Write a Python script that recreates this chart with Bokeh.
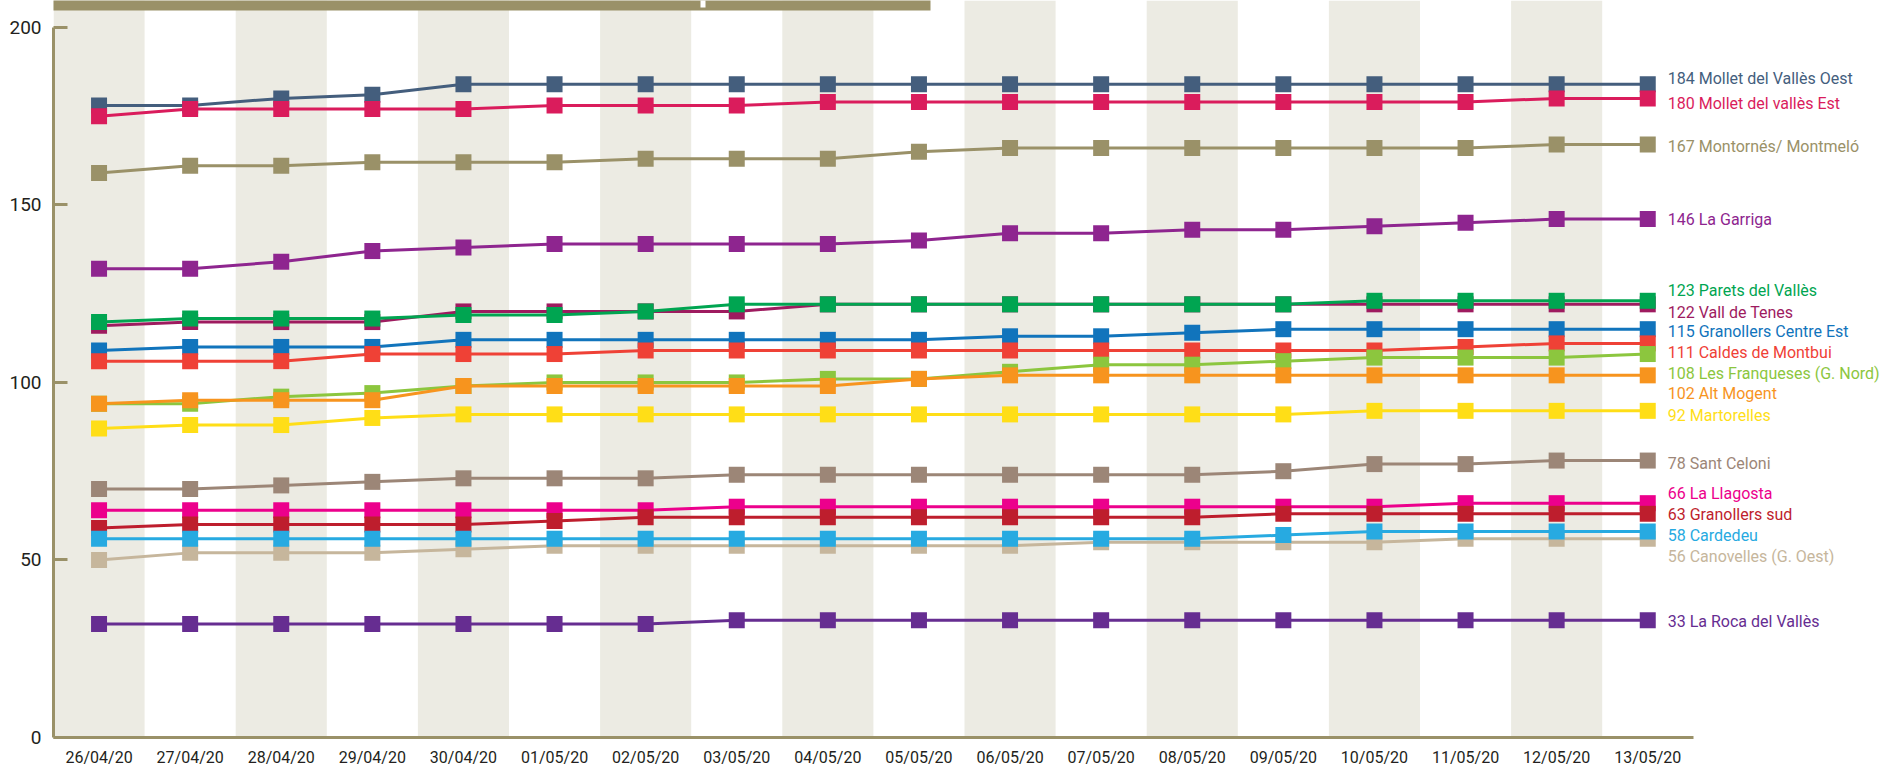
from bokeh.plotting import figure
from bokeh.models import ColumnDataSource, FixedTicker, BoxAnnotation, Range1d
from bokeh.embed import file_html
from bokeh.resources import INLINE
from bokeh.core.properties import value

# ---------------- data ----------------
dates = ["26/04/20", "27/04/20", "28/04/20", "29/04/20", "30/04/20", "01/05/20",
         "02/05/20", "03/05/20", "04/05/20", "05/05/20", "06/05/20", "07/05/20",
         "08/05/20", "09/05/20", "10/05/20", "11/05/20", "12/05/20", "13/05/20"]

mollet_oest = [178, 178, 180, 181, 184, 184, 184, 184, 184, 184, 184, 184, 184, 184, 184, 184, 184, 184]
mollet_est = [175, 177, 177, 177, 177, 178, 178, 178, 179, 179, 179, 179, 179, 179, 179, 179, 180, 180]
montornes = [159, 161, 161, 162, 162, 162, 163, 163, 163, 165, 166, 166, 166, 166, 166, 166, 167, 167]
garriga = [132, 132, 134, 137, 138, 139, 139, 139, 139, 140, 142, 142, 143, 143, 144, 145, 146, 146]
vall_tenes = [116, 117, 117, 117, 120, 120, 120, 120, 122, 122, 122, 122, 122, 122, 122, 122, 122, 122]
parets = [117, 118, 118, 118, 119, 119, 120, 122, 122, 122, 122, 122, 122, 122, 123, 123, 123, 123]
granollers_ce = [109, 110, 110, 110, 112, 112, 112, 112, 112, 112, 113, 113, 114, 115, 115, 115, 115, 115]
caldes = [106, 106, 106, 108, 108, 108, 109, 109, 109, 109, 109, 109, 109, 109, 109, 110, 111, 111]
franqueses = [94, 94, 96, 97, 99, 100, 100, 100, 101, 101, 103, 105, 105, 106, 107, 107, 107, 108]
alt_mogent = [94, 95, 95, 95, 99, 99, 99, 99, 99, 101, 102, 102, 102, 102, 102, 102, 102, 102]
martorelles = [87, 88, 88, 90, 91, 91, 91, 91, 91, 91, 91, 91, 91, 91, 92, 92, 92, 92]
sant_celoni = [70, 70, 71, 72, 73, 73, 73, 74, 74, 74, 74, 74, 74, 75, 77, 77, 78, 78]
llagosta = [64, 64, 64, 64, 64, 64, 64, 65, 65, 65, 65, 65, 65, 65, 65, 66, 66, 66]
granollers_sud = [59, 60, 60, 60, 60, 61, 62, 62, 62, 62, 62, 62, 62, 63, 63, 63, 63, 63]
canovelles = [50, 52, 52, 52, 53, 54, 54, 54, 54, 54, 54, 55, 55, 55, 55, 56, 56, 56]
cardedeu = [56, 56, 56, 56, 56, 56, 56, 56, 56, 56, 56, 56, 56, 57, 58, 58, 58, 58]
la_roca = [32, 32, 32, 32, 32, 32, 32, 33, 33, 33, 33, 33, 33, 33, 33, 33, 33, 33]

names = ["Mollet del Vallès Oest", "Mollet del vallès Est", "Montornés/ Montmeló",
         "La Garriga", "Vall de Tenes", "Parets del Vallès", "Granollers Centre Est",
         "Caldes de Montbui", "Les Franqueses (G. Nord)", "Alt Mogent", "Martorelles",
         "Sant Celoni", "La Llagosta", "Granollers sud", "Canovelles (G. Oest)",
         "Cardedeu", "La Roca del Vallès"]
series = [mollet_oest, mollet_est, montornes, garriga, vall_tenes, parets, granollers_ce,
          caldes, franqueses, alt_mogent, martorelles, sant_celoni, llagosta,
          granollers_sud, canovelles, cardedeu, la_roca]
y_ticks = [0, 50, 100, 150, 200]

# ---------------- styles ----------------
colors = ["#445e7d", "#da1c5c", "#9a9168", "#8e258f", "#9e1b5f", "#00a551", "#1174bc",
          "#ef4136", "#8cc63e", "#f7941e", "#ffde17", "#9c8677", "#ec008c",
          "#be1e2d", "#c6b69c", "#27aae1", "#662d91"]
# vertical nudge of each end label (screen px, positive = down)
label_nudge = [-6, 5, 2, 0, 8, -10, 2, 9, 19, 18, 5, 3, -10, 1, 18, 4, 1]

OLIVE = "#9a9168"
STRIPE = "#ecebe3"
FONT = "Roboto"

W, H = 1887, 769
LEFT, BOTTOM = 53, 29
PX_PER_CAT = 91.1
PX_PER_UNIT = 3.565
X0 = -0.5
X1 = X0 + (W - LEFT) / PX_PER_CAT
Y1 = (H - BOTTOM) / PX_PER_UNIT

p = figure(width=W, height=H, x_range=Range1d(X0, X1), y_range=Range1d(0, Y1),
           output_backend="svg", toolbar_location=None,
           min_border_left=LEFT, min_border_right=0, min_border_top=0,
           min_border_bottom=BOTTOM)
p.outline_line_color = None
p.grid.visible = False
p.background_fill_color = "white"
p.border_fill_color = "white"

xs = list(range(len(dates)))

# alternating background stripes
stripe_x = [i for i in xs[:-1] if i % 2 == 0]
p.vbar(x=stripe_x, width=1, bottom=0, top=Y1, fill_color=STRIPE, line_color=None)

# series
for vals, col in zip(series, colors):
    p.line(xs, vals, line_color=col, line_width=3)
    p.scatter(xs, vals, marker="square", size=16, fill_color=col, line_color=None)

# end labels
last = len(dates) - 1
src = ColumnDataSource(dict(
    x=[last] * len(series),
    y=[s[-1] for s in series],
    text=[f"{s[-1]} {n}" for s, n in zip(series, names)],
    color=colors,
    dy=label_nudge,
))
p.text(x="x", y="y", text="text", source=src, text_color="color",
       x_offset=20, y_offset="dy", text_font=value(FONT), text_font_size="16px",
       text_baseline="middle", text_align="left")

# header bar (cut-off title banner at the top)
def px2x(px):
    return X0 + (px - LEFT) / PX_PER_CAT

def px2y(py):
    return (H - BOTTOM - py) / PX_PER_UNIT

p.add_layout(BoxAnnotation(left=px2x(-10), right=px2x(930), bottom=px2y(10), top=px2y(-4),
                           fill_color=OLIVE, fill_alpha=1, line_alpha=0))
p.add_layout(BoxAnnotation(left=px2x(700), right=px2x(705), bottom=px2y(7), top=px2y(-4),
                           fill_color="white", fill_alpha=1, line_alpha=0))

# axes
ya = p.yaxis[0]
ya.ticker = FixedTicker(ticks=y_ticks)
ya.bounds = (0, 200)
ya.axis_line_color = OLIVE
ya.axis_line_width = 3
ya.major_tick_in = 14
ya.major_tick_out = 0
ya.major_tick_line_color = OLIVE
ya.major_tick_line_width = 3
ya.minor_tick_line_color = None
ya.major_label_standoff = 12
ya.major_label_text_font = FONT
ya.major_label_text_font_size = "19px"
ya.major_label_text_color = "#231f20"

xa = p.xaxis[0]
xa.ticker = FixedTicker(ticks=xs)
xa.major_label_overrides = {i: d for i, d in zip(xs, dates)}
xa.bounds = (-0.5, last + 0.5)
xa.axis_line_color = OLIVE
xa.axis_line_width = 3
xa.major_tick_line_color = None
xa.minor_tick_line_color = None
xa.major_tick_in = 0
xa.major_tick_out = 0
xa.major_label_standoff = 10
xa.major_label_text_font = FONT
xa.major_label_text_font_size = "16px"
xa.major_label_text_color = "#231f20"

open("out.html", "w").write(file_html(p, INLINE))
